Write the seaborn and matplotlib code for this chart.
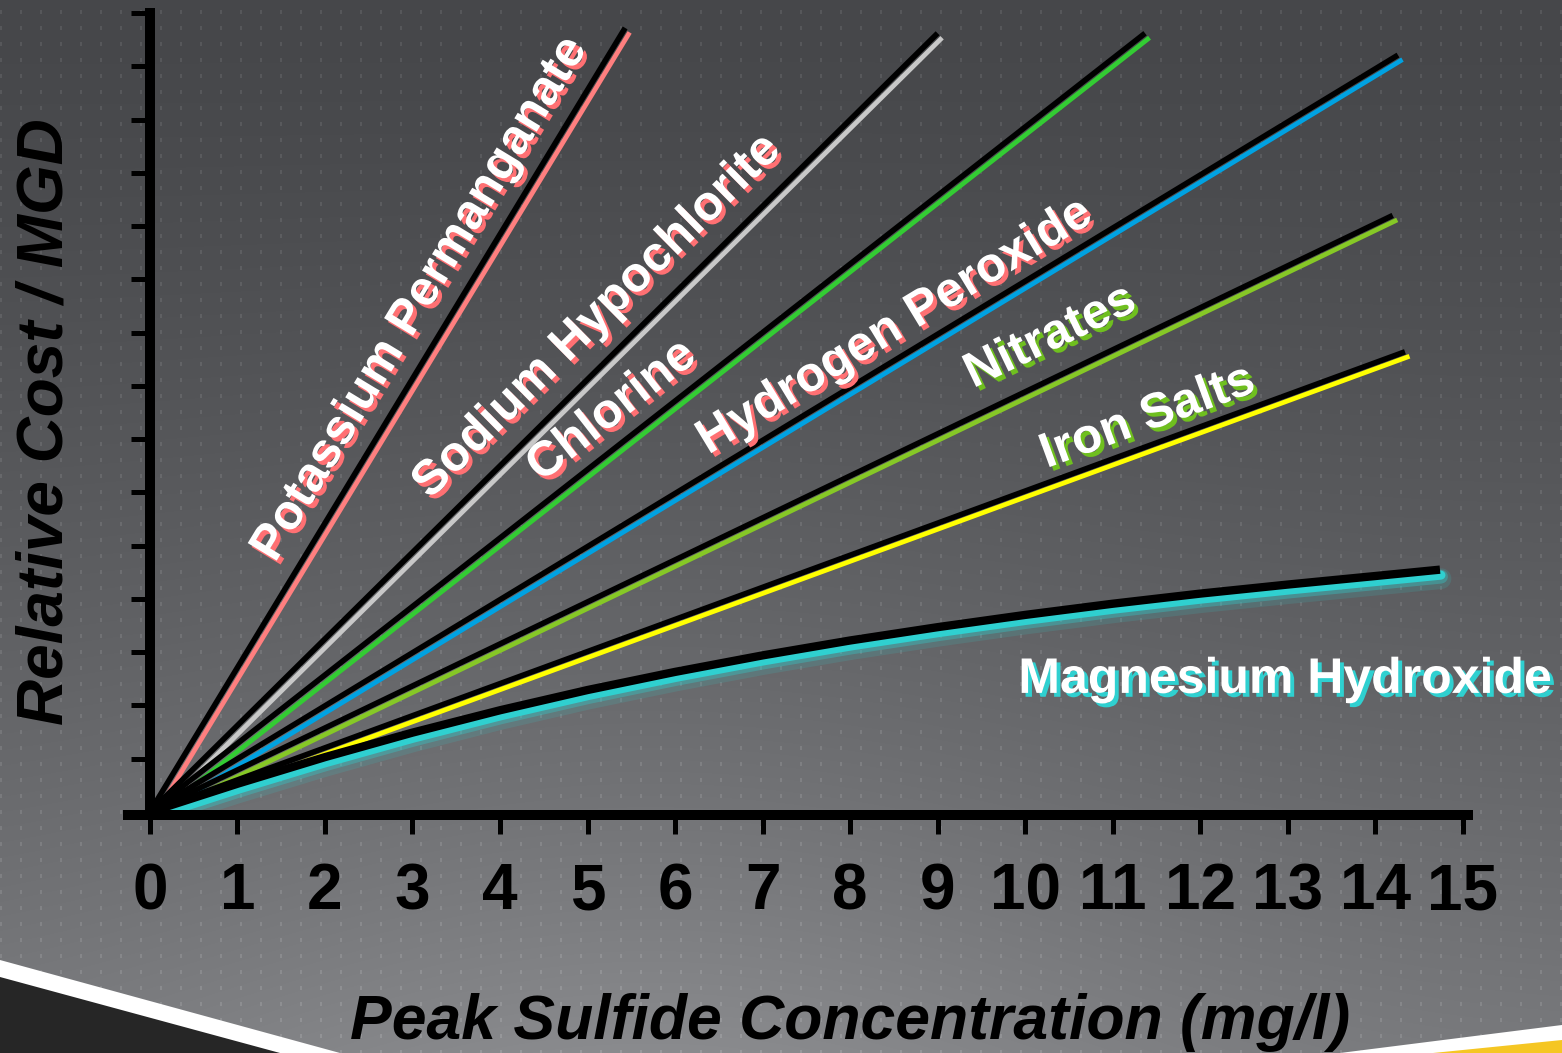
import numpy as np
import pandas as pd
import matplotlib
matplotlib.use("Agg")
import matplotlib.pyplot as plt
import matplotlib.patheffects as pe
import matplotlib.transforms as mtrans
from matplotlib.patches import Polygon
import seaborn as sns

# ---------------- data ----------------
chemicals = ["Potassium Permanganate", "Sodium Hypochlorite", "Chlorine",
             "Hydrogen Peroxide", "Nitrates", "Iron Salts"]
line_end_x = [5.43, 9.0, 11.37, 14.26, 14.2, 14.34]
line_end_y = [14.72, 14.62, 14.62, 14.21, 11.2, 8.64]

mg_name = "Magnesium Hydroxide"
mg_x = [0, 1, 2, 3, 4, 5, 6, 7, 8, 9, 10, 11, 12, 13, 14, 14.74]
mg_y = [0, 0.53, 1.03, 1.49, 1.91, 2.29, 2.63, 2.94, 3.22, 3.47, 3.70, 3.91, 4.10, 4.27, 4.43, 4.55]

x_ticks = list(range(16))
y_ticks = list(range(16))
x_label = "Peak Sulfide Concentration (mg/l)"
y_label = "Relative Cost / MGD"

# ---------------- styles ----------------
line_colors = ["#ff7f7f", "#c8c8c8", "#33cc33", "#00a2e2", "#86c826", "#ffff00"]
label_shadow = ["#ff7073", "#ff7073", "#ff7073", "#ff7073", "#6fbf1f", "#6fbf1f"]
mg_color = "#2fd0d0"
# annotation placement (label centres in data units)
label_pos = {"Potassium Permanganate": (3.09, 9.62),
             "Sodium Hypochlorite": (5.11, 9.29),
             "Chlorine": (5.28, 7.52),
             "Hydrogen Peroxide": (8.51, 9.1),
             "Nitrates": (10.29, 8.91),
             "Iron Salts": (11.4, 7.4),
             "Magnesium Hydroxide": (12.97, 2.48)}

sns.set_style("ticks")
plt.rcParams["font.family"] = ["Liberation Sans", "DejaVu Sans"]

W, H = 1562, 1053
fig = plt.figure(figsize=(W / 100, H / 100), dpi=100)

# ---------------- background ----------------
yy, xx = np.mgrid[0:H, 0:W].astype(float)
t = yy / H
v = 70 + 50 * t ** 1.4 + 18 * np.exp(-((xx - 650) / 520) ** 2) * t ** 2
dots = ((xx.astype(int) % 20) < 2) & (((yy.astype(int) + 6) % 16) < 4)
v = v + dots * 16
img = np.stack([v, v + 1, v + 4], axis=-1) / 255.0
img = np.clip(img, 0, 1)
bg = fig.add_axes([0, 0, 1, 1], zorder=0)
bg.imshow(img, extent=(0, W, H, 0), interpolation="nearest", aspect="auto")
bg.set_xlim(0, W)
bg.set_ylim(H, 0)
bg.axis("off")
bg.add_patch(Polygon([(0, 960), (340, H), (0, H)], closed=True, color="white", lw=0))
bg.add_patch(Polygon([(0, 977), (280, H), (0, H)], closed=True, color="#262626", lw=0))
bg.add_patch(Polygon([(1340, H), (W, 1025), (W, H)], closed=True, color="white", lw=0))
bg.add_patch(Polygon([(1433, H), (W, 1040), (W, H)], closed=True, color="#f5c623", lw=0))

# ---------------- main axes ----------------
ax = fig.add_axes([128 / W, (H - 815.2) / H, 1340 / W, 802.2 / H], zorder=1)
ax.patch.set_alpha(0)
ax.set_xlim(-0.25, 15.06)
ax.set_ylim(-0.06, 15.0)

off_col = mtrans.offset_copy(ax.transData, fig=fig, x=4.5, y=-4.5, units="dots")

for name, ex, ey, col in zip(chemicals, line_end_x, line_end_y, line_colors):
    df = pd.DataFrame({"x": [0, ex], "y": [0, ey]})
    sns.lineplot(data=df, x="x", y="y", ax=ax, color=col, lw=3.4,
                 solid_capstyle="butt", zorder=3)
    ax.lines[-1].set_transform(off_col)
    sns.lineplot(data=df, x="x", y="y", ax=ax, color="black", lw=4.0,
                 solid_capstyle="butt", zorder=3)

# magnesium hydroxide curve with cyan glow
mg_df = pd.DataFrame({"x": mg_x, "y": mg_y})
for dy, lw, a in [(-9, 15, 0.15), (-7, 10, 0.35), (-5.5, 6.5, 1.0)]:
    sns.lineplot(data=mg_df, x="x", y="y", ax=ax, color=mg_color, lw=lw, alpha=a,
                 solid_capstyle="round", solid_joinstyle="round", zorder=3)
    ax.lines[-1].set_transform(mtrans.offset_copy(ax.transData, fig=fig, x=1, y=dy, units="dots"))
sns.lineplot(data=mg_df, x="x", y="y", ax=ax, color="black", lw=6.0,
             solid_capstyle="butt", solid_joinstyle="round", zorder=3)

# labels
def screen_angle(x0, y0, x1, y1):
    p = ax.transData.transform([(x0, y0), (x1, y1)])
    return np.degrees(np.arctan2(p[1, 1] - p[0, 1], p[1, 0] - p[0, 0]))

for name, ex, ey, sh in zip(chemicals, line_end_x, line_end_y, label_shadow):
    lx, ly = label_pos[name]
    ang = screen_angle(0, 0, ex, ey)
    ax.text(lx, ly, name, rotation=ang, rotation_mode="anchor", ha="center", va="center",
            fontsize=35.5, fontweight="bold", color="white", zorder=5,
            path_effects=[pe.withSimplePatchShadow(offset=(2.8, -2.8), shadow_rgbFace=sh, alpha=1.0)])

lx, ly = label_pos[mg_name]
ax.text(lx, ly, mg_name, ha="center", va="center", fontsize=36, fontweight="bold",
        color="white", zorder=5,
        path_effects=[pe.withSimplePatchShadow(offset=(2.8, -2.8), shadow_rgbFace=mg_color, alpha=1.0)])

# spines and ticks
for s in ["top", "right"]:
    ax.spines[s].set_visible(False)
ax.spines["left"].set_position(("data", 0))
ax.spines["left"].set_linewidth(7.2)
ax.spines["bottom"].set_linewidth(7.2)
ax.spines["left"].set_color("black")
ax.spines["bottom"].set_color("black")
ax.spines["left"].set_zorder(4)
ax.spines["bottom"].set_zorder(4)

ax.set_xticks(x_ticks)
ax.set_xticklabels([str(v) for v in x_ticks])
ax.set_yticks(y_ticks)
ax.set_yticklabels([])
ax.tick_params(axis="x", direction="out", length=14, width=3.6, color="black",
               labelsize=46, pad=20, labelcolor="black")
ax.tick_params(axis="y", direction="out", length=14, width=3.6, color="black")
for lab in ax.get_xticklabels():
    lab.set_fontweight("bold")

ax.set_xlabel(x_label, fontsize=45, fontweight="bold", fontstyle="italic", color="black")
ax.xaxis.set_label_coords((850 - 128) / 1340, (815.2 - 1022) / 802.2)
ax.xaxis.label.set_va("center")
ax.set_ylabel(y_label, fontsize=46, fontweight="bold", fontstyle="italic", color="black")
ax.yaxis.set_label_coords((46 - 128) / 1340, (815.2 - 422) / 802.2)
ax.yaxis.label.set_va("center")

fig.savefig("out.png", dpi=100)
